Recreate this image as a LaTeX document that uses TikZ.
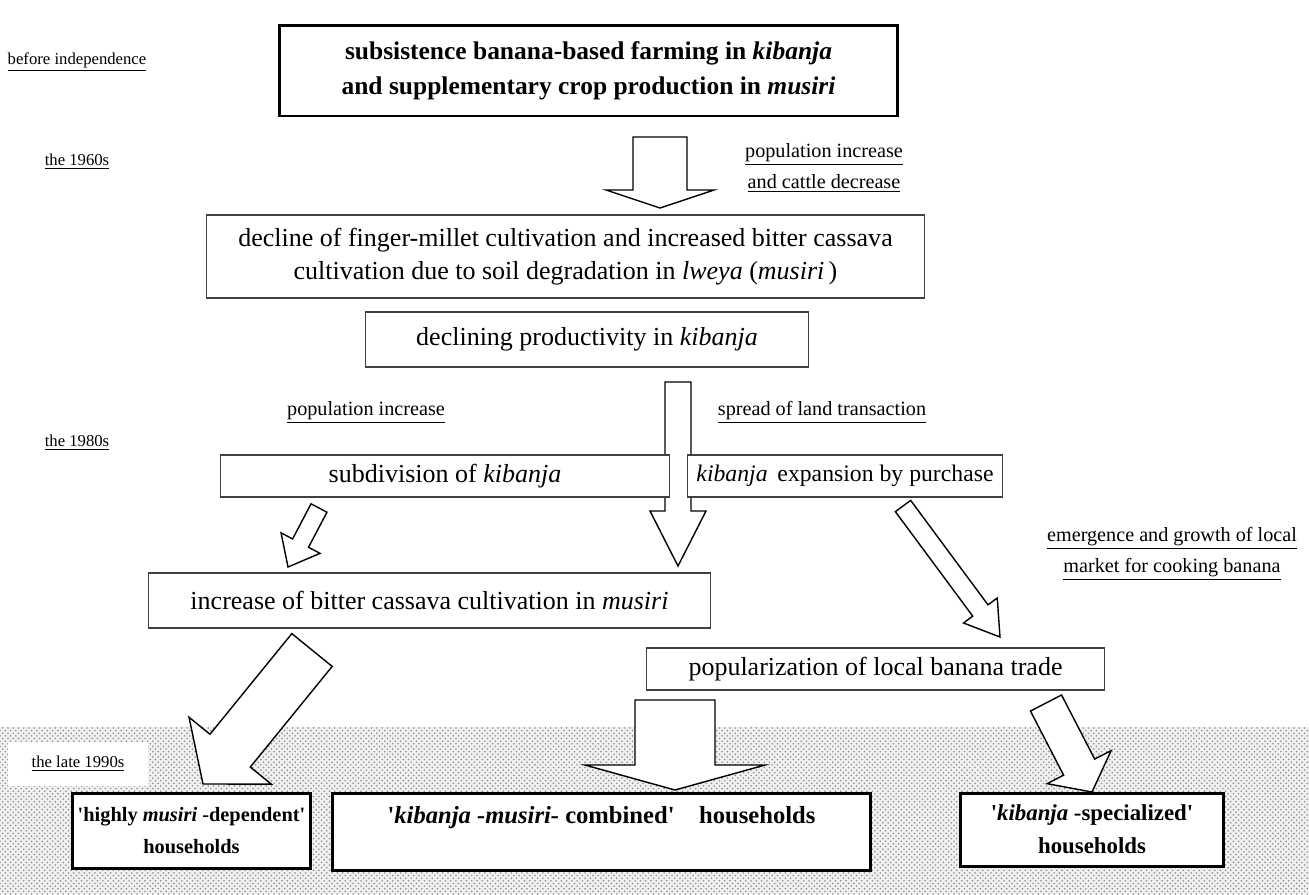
\documentclass[tikz,border=0pt]{standalone}
\usepackage{fontspec}
\setmainfont{Liberation Serif}
\usetikzlibrary{calc,patterns}

% block arrow: tail, tip, half shaft, half head, head length
\newcommand{\blockarrow}[5]{%
  \coordinate (hb) at ($(#2)!#5!(#1)$);
  \draw[blockarr] ($(#1)!#3!90:(#2)$) -- ($(hb)!#3!90:(#2)$) -- ($(hb)!#4!90:(#2)$) -- (#2)
    -- ($(hb)!#4!-90:(#2)$) -- ($(hb)!#3!-90:(#2)$) -- ($(#1)!#3!-90:(#2)$) -- cycle;
}

\begin{document}
\begin{tikzpicture}[x=0.02cm, y=-0.02cm,
    every node/.style={inner sep=0pt, align=center},
    box/.style={draw=black!75, line width=0.6pt, fill=white, font=\fontsize{14.8}{18.7}\selectfont},
    thickbox/.style={draw, line width=1.7pt, fill=white},
    topbox/.style={thickbox, font=\fontsize{14.5}{19.8}\selectfont\bfseries},
    hhbox/.style={thickbox, font=\fontsize{11.6}{18.7}\selectfont\bfseries},
    period/.style={font=\fontsize{9.5}{12}\selectfont},
    cause/.style={font=\fontsize{11.5}{17.5}\selectfont},
    blockarr/.style={draw, line width=0.8pt, fill=white, line join=miter}
    ]
    \useasboundingbox (0,0) rectangle (1309,894);

    % the late 1990s band
    \path[fill=gray!12, postaction={pattern=crosshatch dots, pattern color=black!45}]
      (0,727) rectangle (1309,894);

    % periods
    \node[period] (p0) at (77,62) {\underline{before independence}};
    \node[period] (p1) at (77,162) {\underline{the 1960s}};
    \node[period] (p2) at (77,443) {\underline{the 1980s}};
    \node[period, fill=white, minimum width=2.8cm, minimum height=0.88cm] (p3) at (78,764) {\underline{the late 1990s}};

    % causes
    \node[cause] (c1) at (824,168) {\underline{population increase}\\\underline{and cattle decrease}};
    \node[cause] (c2) at (366,412) {\underline{population increase}};
    \node[cause] (c3) at (822,412) {\underline{spread of land transaction}};
    \node[cause] (c4) at (1172,554) {\underline{emergence and growth of local}\\\underline{market for cooking banana}};

    % the arrows
    \coordinate (a1t) at (660,137);  \coordinate (a1h) at (660,208);
    \coordinate (a2t) at (678,382);  \coordinate (a2h) at (678,566);
    \coordinate (a3t) at (319,508);  \coordinate (a3h) at (288,567);
    \coordinate (a4t) at (903,506);  \coordinate (a4h) at (1000,637);
    \coordinate (a5t) at (312,650);  \coordinate (a5h) at (203,784);
    \coordinate (a6t) at (675,700);  \coordinate (a6h) at (675,790);
    \coordinate (a7t) at (1046,703); \coordinate (a7h) at (1092,792);
    \blockarrow{a1t}{a1h}{0.54cm}{1.08cm}{0.36cm}
    \blockarrow{a2t}{a2h}{0.26cm}{0.56cm}{1.10cm}
    \blockarrow{a3t}{a3h}{0.18cm}{0.44cm}{0.54cm}
    \blockarrow{a4t}{a4h}{0.19cm}{0.42cm}{0.66cm}
    \blockarrow{a5t}{a5h}{0.52cm}{1.06cm}{0.86cm}
    \blockarrow{a6t}{a6h}{0.80cm}{1.80cm}{0.50cm}
    \blockarrow{a7t}{a7h}{0.35cm}{0.72cm}{0.56cm}

    % the boxes
    \node[topbox, minimum width=12.38cm, minimum height=1.82cm] (orig) at (588.5,70.5)
      {subsistence banana-based farming in \textit{kibanja}\\and supplementary crop production in \textit{musiri}};
    \node[box, minimum width=14.38cm, minimum height=1.66cm] (decl) at (565.5,256.5)
      {decline of finger-millet cultivation and increased bitter cassava\\cultivation due to soil degradation in \textit{lweya} (\textit{musiri}\,)};
    \node[box, minimum width=8.88cm, minimum height=1.10cm] (prod) at (587,339.5)
      {declining productivity in \textit{kibanja}};
    \node[box, minimum width=9.00cm, minimum height=0.84cm] (subd) at (445,476)
      {subdivision of \textit{kibanja}};
    \node[box, font=\fontsize{13.5}{17}\selectfont, minimum width=6.30cm, minimum height=0.84cm] (expa) at (845,476)
      {\textit{kibanja}\, expansion by purchase};
    \node[box, minimum width=11.26cm, minimum height=1.10cm] (cass) at (429.5,600.5)
      {increase of bitter cassava cultivation in \textit{musiri}};
    \node[box, minimum width=9.18cm, minimum height=0.84cm] (popu) at (875.5,669)
      {popularization of local banana trade};
    \node[hhbox, minimum width=4.78cm, minimum height=1.50cm] (hmd) at (191.5,830.5)
      {\textquotesingle highly \textit{musiri} -dependent\textquotesingle\\households};
    \node[hhbox, font=\fontsize{14}{18.7}\selectfont\bfseries, minimum width=10.78cm, minimum height=1.54cm] (comb) at (601.5,831.5)
      {\textquotesingle\textit{kibanja -musiri-} combined\textquotesingle\quad households\\\mbox{}};
    \node[hhbox, font=\fontsize{13}{18.7}\selectfont\bfseries, minimum width=5.28cm, minimum height=1.46cm] (spec) at (1092,829.5)
      {\textquotesingle\textit{kibanja} -specialized\textquotesingle\\households};
\end{tikzpicture}
\end{document}
